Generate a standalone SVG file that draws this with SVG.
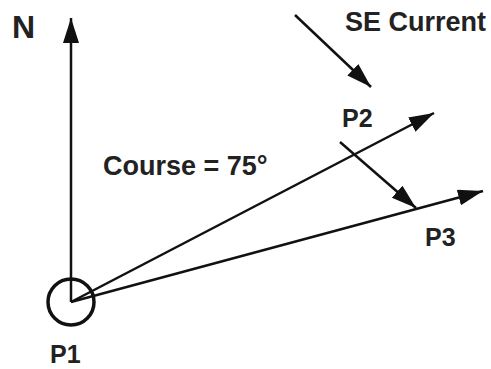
<svg xmlns="http://www.w3.org/2000/svg" width="491" height="369" viewBox="0 0 491 369">
<style>
.ln{stroke:#111;stroke-width:2.5;fill:none}
.lb{font-family:"Liberation Sans",Arial,sans-serif;font-weight:bold;fill:#222;font-size:25px}
.big{font-size:27px}
</style>
<defs>
<marker id="ah" markerUnits="userSpaceOnUse" markerWidth="26" markerHeight="18" refX="25" refY="8" orient="auto">
<path d="M0,0 L25,8 L0,16 Z" fill="#111"/>
</marker>
</defs>
<rect width="491" height="369" fill="#fff"/>
<g id="connectors">
<line class="ln" x1="71" y1="302" x2="71" y2="18" marker-end="url(#ah)"/>
<line class="ln" x1="71" y1="302" x2="434" y2="113" marker-end="url(#ah)"/>
<line class="ln" x1="71" y1="302" x2="483" y2="191" marker-end="url(#ah)"/>
<line class="ln" x1="295" y1="15" x2="371" y2="87" marker-end="url(#ah)"/>
<line class="ln" x1="340" y1="142" x2="416" y2="208" marker-end="url(#ah)"/>
</g>
<g id="P1">
<circle cx="71" cy="302" r="23" fill="none" stroke="#111" stroke-width="3.5"/>
<text class="lb" x="50" y="363">P1</text>
</g>
<g id="N"><text class="lb" x="12" y="38" style="font-size:32px">N</text></g>
<g id="SE"><text class="lb big" x="345" y="31">SE Current</text></g>
<g id="P2"><text class="lb" x="342" y="127">P2</text></g>
<g id="P3"><text class="lb" x="425" y="246">P3</text></g>
<g id="course"><text class="lb big" x="103" y="175">Course = 75°</text></g>
</svg>
